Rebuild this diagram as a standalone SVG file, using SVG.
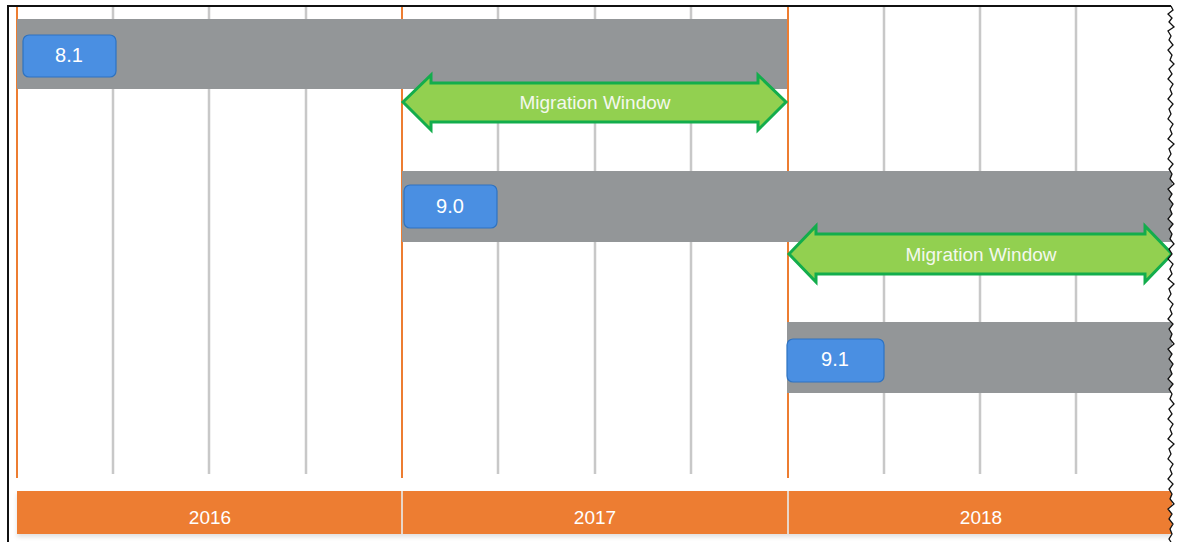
<svg xmlns="http://www.w3.org/2000/svg" width="1185" height="542" viewBox="0 0 1185 542">
<defs>
<style>
.grid{stroke:#c8c8c8;stroke-width:2.5}
.year{stroke:#ED7D31;stroke-width:2}
.bar{fill:#939698}
.ver{fill:#4A8FE2;stroke:#2E73C2;stroke-width:1.2}
.vt{font-family:"Liberation Sans",sans-serif;font-size:20px;fill:#ffffff;text-anchor:middle}
.arrow{fill:#92D050;stroke:#13AD4C;stroke-width:3;stroke-linejoin:miter}
.at{font-family:"Liberation Sans",sans-serif;font-size:19px;fill:#f4f8ee;text-anchor:middle}
.axis{fill:#ED7D31}
.yt{font-family:"Liberation Sans",sans-serif;font-size:19px;fill:#ffffff;text-anchor:middle}
</style>
<filter id="sh" x="-5%" y="-20%" width="110%" height="160%"><feDropShadow dx="0" dy="3" stdDeviation="2" flood-color="#000" flood-opacity="0.12"/></filter>
</defs>
<rect width="1185" height="542" fill="#ffffff"/>
<g id="grid">
<line class="grid" x1="113" y1="6" x2="113" y2="474"/>
<line class="grid" x1="209" y1="6" x2="209" y2="474"/>
<line class="grid" x1="306" y1="6" x2="306" y2="474"/>
<line class="grid" x1="498" y1="6" x2="498" y2="474"/>
<line class="grid" x1="595" y1="6" x2="595" y2="474"/>
<line class="grid" x1="691" y1="6" x2="691" y2="474"/>
<line class="grid" x1="884" y1="6" x2="884" y2="474"/>
<line class="grid" x1="980" y1="6" x2="980" y2="474"/>
<line class="grid" x1="1076" y1="6" x2="1076" y2="474"/>
<line class="year" x1="17" y1="6" x2="17" y2="478"/>
<line class="year" x1="402" y1="6" x2="402" y2="478"/>
<line class="year" x1="788" y1="6" x2="788" y2="478"/>
</g>
<g id="bar-81">
<rect class="bar" x="17" y="19" width="770" height="70"/>
<rect class="ver" x="23" y="35" width="93" height="42" rx="6"/>
<text class="vt" x="69" y="62">8.1</text>
</g>
<g id="bar-90">
<rect class="bar" x="402" y="171" width="770" height="71"/>
<rect class="ver" x="404" y="185" width="93" height="43" rx="6"/>
<text class="vt" x="450" y="213">9.0</text>
</g>
<g id="bar-91">
<rect class="bar" x="787" y="322" width="385" height="71"/>
<rect class="ver" x="787" y="339" width="97" height="43" rx="6"/>
<text class="vt" x="835" y="366">9.1</text>
</g>
<g id="connectors">
<g id="migration-1">
<polygon class="arrow" points="403,102 431,75 431,83 758,83 758,75 786,102 758,130 758,122 431,122 431,130"/>
<text class="at" x="595" y="109">Migration Window</text>
</g>
<g id="migration-2">
<polygon class="arrow" points="789,254 816,226 816,234 1145,234 1145,226 1172,254 1145,282 1145,274 816,274 816,282"/>
<text class="at" x="981" y="261">Migration Window</text>
</g>
</g>
<g id="axis">
<rect class="axis" x="17" y="491" width="1155" height="43" filter="url(#sh)"/>
<line x1="402" y1="491" x2="402" y2="534" stroke="#e8d6c8" stroke-width="2"/>
<line x1="788" y1="491" x2="788" y2="534" stroke="#e8d6c8" stroke-width="2"/>
<text class="yt" x="210" y="524">2016</text>
<text class="yt" x="595" y="524">2017</text>
<text class="yt" x="981" y="524">2018</text>
</g>
<g id="frame">
<path d="M1171,6 L1173,10 L1168,14 L1172,18 L1169,22 L1174,27 L1168,31 L1171,36 L1169,40 L1173,45 L1168,50 L1172,55 L1170,60 L1174,64 L1169,69 L1172,74 L1168,79 L1173,84 L1170,89 L1172,94 L1168,99 L1173,104 L1169,109 L1171,114 L1168,119 L1173,124 L1170,129 L1172,134 L1168,139 L1174,144 L1169,149 L1171,154 L1168,159 L1173,164 L1169,169 L1172,174 L1170,179 L1174,184 L1168,189 L1172,194 L1169,199 L1173,204 L1170,209 L1172,214 L1168,219 L1173,224 L1169,229 L1172,234 L1170,239 L1174,244 L1169,249 L1172,254 L1168,259 L1173,264 L1170,269 L1172,274 L1168,279 L1174,284 L1169,289 L1171,294 L1168,299 L1173,304 L1170,309 L1172,314 L1168,319 L1173,324 L1169,329 L1172,334 L1170,339 L1174,344 L1168,349 L1172,354 L1169,359 L1173,364 L1170,369 L1172,374 L1168,379 L1173,384 L1169,389 L1172,394 L1170,399 L1174,404 L1169,409 L1172,414 L1168,419 L1173,424 L1170,429 L1172,434 L1168,439 L1174,444 L1169,449 L1171,454 L1168,459 L1173,464 L1170,469 L1172,474 L1168,479 L1173,484 L1169,489 L1172,494 L1170,499 L1174,504 L1168,509 L1172,514 L1169,519 L1173,524 L1170,529 L1172,534 L1169,539 L1171,542 L1185,542 L1185,0 L1171,0 Z" fill="#ffffff" stroke="none"/>
<path d="M1171,6 L1173,10 L1168,14 L1172,18 L1169,22 L1174,27 L1168,31 L1171,36 L1169,40 L1173,45 L1168,50 L1172,55 L1170,60 L1174,64 L1169,69 L1172,74 L1168,79 L1173,84 L1170,89 L1172,94 L1168,99 L1173,104 L1169,109 L1171,114 L1168,119 L1173,124 L1170,129 L1172,134 L1168,139 L1174,144 L1169,149 L1171,154 L1168,159 L1173,164 L1169,169 L1172,174 L1170,179 L1174,184 L1168,189 L1172,194 L1169,199 L1173,204 L1170,209 L1172,214 L1168,219 L1173,224 L1169,229 L1172,234 L1170,239 L1174,244 L1169,249 L1172,254 L1168,259 L1173,264 L1170,269 L1172,274 L1168,279 L1174,284 L1169,289 L1171,294 L1168,299 L1173,304 L1170,309 L1172,314 L1168,319 L1173,324 L1169,329 L1172,334 L1170,339 L1174,344 L1168,349 L1172,354 L1169,359 L1173,364 L1170,369 L1172,374 L1168,379 L1173,384 L1169,389 L1172,394 L1170,399 L1174,404 L1169,409 L1172,414 L1168,419 L1173,424 L1170,429 L1172,434 L1168,439 L1174,444 L1169,449 L1171,454 L1168,459 L1173,464 L1170,469 L1172,474 L1168,479 L1173,484 L1169,489 L1172,494 L1170,499 L1174,504 L1168,509 L1172,514 L1169,519 L1173,524 L1170,529 L1172,534 L1169,539 L1171,542" fill="none" stroke="#111" stroke-width="1.3"/>
<path d="M8,542 L8,6 L1171,6" fill="none" stroke="#111" stroke-width="2"/>
</g>
</svg>
